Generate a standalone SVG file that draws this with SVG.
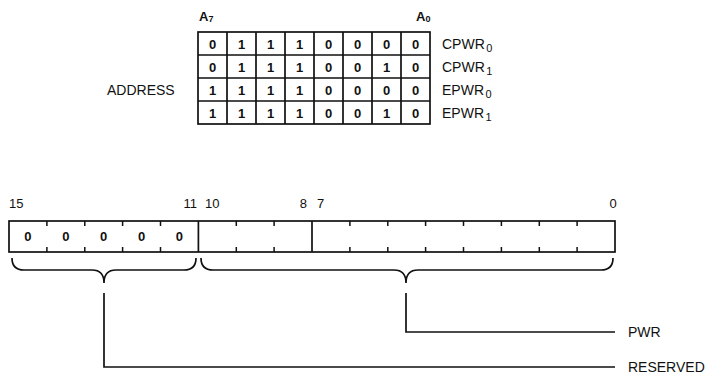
<svg xmlns="http://www.w3.org/2000/svg" width="711" height="377" viewBox="0 0 711 377">
<style>
text{font-family:"Liberation Sans",Arial,sans-serif;fill:#111;font-size:13px}
.c{text-anchor:middle}
.e{text-anchor:end}
.d{font-weight:bold;font-size:13px}
.lb{font-size:14px}
.sub{font-size:11px}
.ln{stroke:#111;stroke-width:1.7;fill:none}
.tk{stroke:#111;stroke-width:1.5}
</style>
<rect width="711" height="377" fill="#fff"/>
<g id="address-table">
<rect class="ln" x="198" y="32" width="232" height="92"/>
<path class="ln" d="M227,32V124M256,32V124M285,32V124M314,32V124M343,32V124M372,32V124M401,32V124M198,55H430M198,78H430M198,101H430"/>
<g class="c d">
<text x="212.5" y="48.5">0</text><text x="241.5" y="48.5">1</text><text x="270.5" y="48.5">1</text><text x="299.5" y="48.5">1</text><text x="328.5" y="48.5">0</text><text x="357.5" y="48.5">0</text><text x="386.5" y="48.5">0</text><text x="415.5" y="48.5">0</text>
<text x="212.5" y="71.5">0</text><text x="241.5" y="71.5">1</text><text x="270.5" y="71.5">1</text><text x="299.5" y="71.5">1</text><text x="328.5" y="71.5">0</text><text x="357.5" y="71.5">0</text><text x="386.5" y="71.5">1</text><text x="415.5" y="71.5">0</text>
<text x="212.5" y="94.5">1</text><text x="241.5" y="94.5">1</text><text x="270.5" y="94.5">1</text><text x="299.5" y="94.5">1</text><text x="328.5" y="94.5">0</text><text x="357.5" y="94.5">0</text><text x="386.5" y="94.5">0</text><text x="415.5" y="94.5">0</text>
<text x="212.5" y="117.5">1</text><text x="241.5" y="117.5">1</text><text x="270.5" y="117.5">1</text><text x="299.5" y="117.5">1</text><text x="328.5" y="117.5">0</text><text x="357.5" y="117.5">0</text><text x="386.5" y="117.5">1</text><text x="415.5" y="117.5">0</text>
</g>
<text x="199" y="21" font-weight="bold" font-size="11">A<tspan font-size="9" dy="1">7</tspan></text>
<text x="416" y="21" font-weight="bold" font-size="11">A<tspan font-size="9" dy="1">0</tspan></text>
<text class="lb" x="107" y="95">ADDRESS</text>
<text class="lb" x="442" y="49">CPWR<tspan class="sub" dx="1.5" dy="3">0</tspan></text>
<text class="lb" x="442" y="72">CPWR<tspan class="sub" dx="1.5" dy="3">1</tspan></text>
<text class="lb" x="442" y="95">EPWR<tspan class="sub" dx="1.5" dy="3">0</tspan></text>
<text class="lb" x="442" y="118">EPWR<tspan class="sub" dx="1.5" dy="3">1</tspan></text>
</g>
<g id="register">
<rect class="ln" x="9" y="221" width="606" height="31"/>
<path class="ln" d="M198.4,221V252M312,221V252"/>
<path class="tk" d="M46.9,221v5M84.8,221v5M122.6,221v5M160.5,221v5M236.3,221v5M274.1,221v5M349.9,221v5M387.8,221v5M425.6,221v5M463.5,221v5M501.4,221v5M539.3,221v5M577.1,221v5M46.9,252v-5M84.8,252v-5M122.6,252v-5M160.5,252v-5M236.3,252v-5M274.1,252v-5M349.9,252v-5M387.8,252v-5M425.6,252v-5M463.5,252v-5M501.4,252v-5M539.3,252v-5M577.1,252v-5"/>
<g class="c d">
<text x="27.9" y="241">0</text><text x="65.8" y="241">0</text><text x="103.7" y="241">0</text><text x="141.6" y="241">0</text><text x="179.4" y="241">0</text>
</g>
<text x="9" y="208">15</text>
<text class="e" x="197" y="208">11</text>
<text x="205" y="208">10</text>
<text class="e" x="307" y="208">8</text>
<text x="317" y="208">7</text>
<text class="c" x="613" y="208">0</text>
</g>
<g id="brace-reserved">
<path class="ln" d="M12,258Q12,270 24,270L92,270Q104,270 104,283Q104,270 116,270L184,270Q196,270 196,258"/>
</g>
<g id="brace-pwr">
<path class="ln" d="M201,258Q201,270 213,270L394,270Q406,270 406,283Q406,270 418,270L601,270Q613,270 613,258"/>
</g>
<g id="connectors">
<path class="ln" d="M104,293V367H615"/>
<path class="ln" d="M406,293V332H615"/>
</g>
<g id="labels">
<text class="lb" x="628" y="337">PWR</text>
<text class="lb" x="628" y="372">RESERVED</text>
</g>
</svg>
